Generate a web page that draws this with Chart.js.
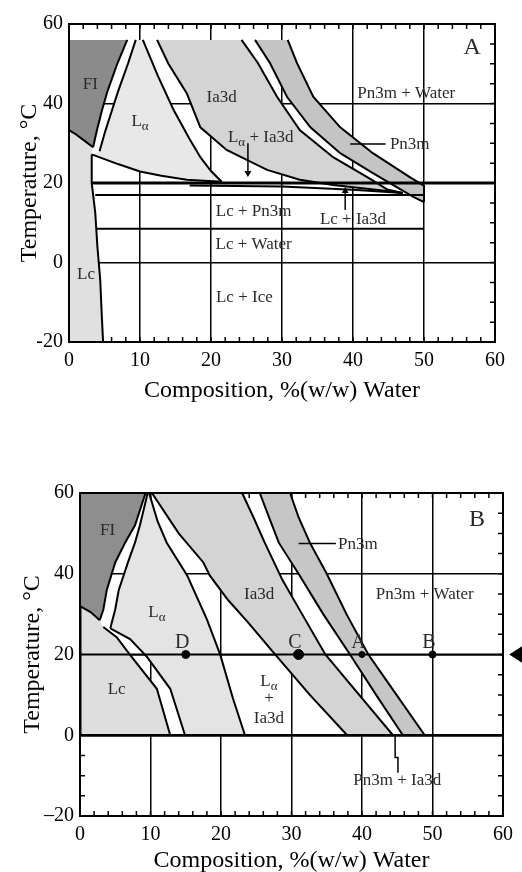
<!DOCTYPE html>
<html>
<head>
<meta charset="utf-8">
<script src="https://cdn.jsdelivr.net/npm/chart.js@4.4.0/dist/chart.umd.min.js"></script>
<style>
  html, body { margin: 0; padding: 0; background: #fff; }
  body { width: 522px; height: 872px; position: relative; overflow: hidden; }
  #chartA { position: absolute; left: 0; top: 0; }
  #chartB { position: absolute; left: 0; top: 430px; }
</style>
</head>
<body>
<canvas id="chartA" width="522" height="405"></canvas>
<canvas id="chartB" width="522" height="442"></canvas>
<script>
// Phase diagram, composition (% w/w water) vs temperature (°C)
// Every boundary is a list of [x, y] points

// ---- Panel A ----
const aFiRight = [[8.2,56],[6.8,50],[5.4,43],[4.6,38],[3.9,33],[3.4,29]];
const aFiLower = [[3.4,29],[2.2,30.6],[1,32.2],[0,33.3]];
const aLaLeft = [[9.4,56],[8.3,50],[6.9,43],[6.0,38],[5.1,33],[4.3,28]];
const aLaRight = [[10.4,56],[12.5,47],[14.7,38.5],[17,31],[18.5,26.5],[20,23],[21.5,20.3]];
const aLaLower = [[21.5,20.3],[16.6,20.8],[13,21.8],[10,22.9],[7,24.7],[5,26],[3.2,27.2]];
const aLcRight = [[4.8,-20],[4.6,-12.7],[4.4,-4.4],[4.0,4],[3.7,12.5],[3.2,20],[3.2,27.2]];
const aIaRight = [[24.3,56],[26.6,50.2],[29.3,41.7],[32.5,33.3],[37.2,26.5],[42,21.5],[44.8,18.4],[47,17.5]];
const aIaLower = [[47,17.5],[44.8,18],[37.2,19.5],[32.5,20.8],[27.9,23.3],[22.2,28.3],[18.5,34],[16.6,42.5],[14,50],[12.4,56]];
const aPnLeft = [[26.2,56],[28.3,50.2],[30.7,41.7],[34,34],[38.2,27.5],[42.8,22.5],[48.5,16.5],[50,15.2]];
const aPnRight = [[30.8,56],[32.1,50.2],[34.4,41.7],[38.2,34],[42.8,27.5],[48,21.5],[50,19.3],[50,15.2]];
const aIso20 = [[3.2,20],[60,20]];
const aIso17 = [[3.7,17],[50,17]];
const aIso8 = [[3.9,8.5],[50,8.5]];
const aLcIaSliver = [[17,19.4],[30,19.1],[40,18.3],[47,17.5]];
const aPnPointer = [[39.6,29.8],[44.6,29.8]];
const aLaIaArrow = [[25.2,30],[25.2,22.5]];
const aLcIaArrow = [[38.9,13.2],[38.9,18]];
const aLabels = [
  {text: 'FI', x: 3, y: 44.7},
  {text: 'L_α', x: 10, y: 35.4},
  {text: 'Ia3d', x: 21.5, y: 41.4},
  {text: 'L_α + Ia3d', x: 27, y: 31.5},
  {text: 'Pn3m + Water', x: 47.5, y: 42.6},
  {text: 'Pn3m', x: 45.2, y: 29.8, align: 'left'},
  {text: 'A', x: 56.8, y: 54, size: 24},
  {text: 'Lc + Pn3m', x: 26, y: 12.7},
  {text: 'Lc + Water', x: 26, y: 4.4},
  {text: 'Lc + Ice', x: 24.7, y: -8.7},
  {text: 'Lc', x: 2.4, y: -3.1},
  {text: 'Lc + Ia3d', x: 40, y: 10.7}
];

// ---- Panel B ----
const bFiRight = [[9.3,60],[7.8,52],[6.4,47.7],[5.0,42.8],[3.8,36],[3.3,31],[2.8,28.5]];
const bFiLower = [[2.8,28.5],[1.5,30.5],[0,32]];
const bLaLeft = [[9.6,60],[8.5,52],[7.8,47.7],[6.8,42.8],[5.5,36],[5.0,31.2],[4.3,26.5]];
const bLaRight = [[9.8,60],[11,53],[12.3,47.7],[15.2,39.6],[18,28.7],[19.9,19.9],[21.7,9.1],[23.4,0]];
const bLaLower = [[14.9,0],[12.8,11.5],[9.5,19.4],[7.1,23.8],[4.3,26.5]];
const bLcUpper = [[3.3,26.8],[5.2,24.3],[7.1,19.9],[10.9,11.5],[12.8,0]];
const bIaLeft = [[10.2,60],[14,50],[17.5,42.8],[18.4,39.6],[21,33.5],[23.8,28],[27.4,20.6],[32.6,10],[37.9,0]];
const bIaRight = [[23,60],[24.6,54],[26.2,47.7],[28.7,38.5],[31.5,30],[34.8,20],[39.6,10],[44.4,0]];
const bPnLeft = [[25.5,60],[26.8,54],[28.2,47.7],[31,40],[34.5,30],[38.3,20],[42,10],[45.8,0]];
const bPnRight = [[29.8,60],[31,54],[32.6,47.7],[35,40],[37.8,30],[40.9,20],[44.9,10],[48.9,0]];
const bLeftWall = [[0,0],[0,32]];
const bIso20 = [[0,20],[60,20]];
const bIso0 = [[0,0],[60,0]];
const bPnPointer = [[31,47.5],[36.3,47.5]];
const bPnIaPointer = [[44.7,0],[44.7,-5.5],[45.1,-5.5],[45.1,-9.3]];
const sampleNames = ['D', 'C', 'A', 'B'];
const sampleWater = [15, 31, 40, 50];
const sampleTemp = [20, 20, 20, 20];
const sampleSize = [4, 5, 3, 3.5];
const markerPoint = [62.3, 20];
const bLabels = [
  {text: 'FI', x: 3.9, y: 50.6},
  {text: 'L_α', x: 10.9, y: 30.5},
  {text: 'Lc', x: 5.2, y: 11.3},
  {text: 'Ia3d', x: 25.4, y: 34.9},
  {text: 'L_α', x: 26.8, y: 13.3},
  {text: '+', x: 26.8, y: 9},
  {text: 'Ia3d', x: 26.8, y: 4.2},
  {text: 'Pn3m', x: 36.6, y: 47.2, align: 'left'},
  {text: 'Pn3m + Water', x: 48.9, y: 34.9},
  {text: 'Pn3m + Ia3d', x: 45, y: -11.3},
  {text: 'B', x: 56.3, y: 53.3, size: 24}
];

const SERIF = "'Liberation Serif', 'DejaVu Serif', serif";

// helpers
function xy(list) { return list.map(p => ({x: p[0], y: p[1]})); }
function rev(list) { return list.slice().reverse(); }

function region(points, color) {
  return {data: xy(points), showLine: true, fill: 'shape', backgroundColor: color,
    borderColor: 'rgba(0,0,0,0)', borderWidth: 0, pointRadius: 0, tension: 0, order: 5};
}
function edge(points, width) {
  return {data: xy(points), showLine: true, fill: false, borderColor: '#000',
    borderWidth: width || 2, pointRadius: 0, tension: 0, order: 3};
}
function arrowHead(point, rotation) {
  return {data: xy([point]), showLine: false, pointStyle: 'triangle', rotation: rotation,
    pointRadius: 4, backgroundColor: '#000', borderColor: '#000', borderWidth: 0, order: 1};
}

function drawLabel(ctx, text, px, py, size, align) { // '_' marks a subscript character
  const segs = [];
  text.split('_').forEach((chunk, i) => {
    if (i === 0) { if (chunk) segs.push([chunk, false]); }
    else {
      segs.push([chunk[0], true]);
      if (chunk.length > 1) segs.push([chunk.slice(1), false]);
    }
  });
  const big = size + 'px ' + SERIF;
  const small = Math.round(size * 0.75) + 'px ' + SERIF;
  let total = 0;
  segs.forEach(s => { ctx.font = s[1] ? small : big; total += ctx.measureText(s[0]).width; });
  let cx = align === 'left' ? px : px - total / 2;
  ctx.fillStyle = '#2a2a2a';
  ctx.textBaseline = 'middle';
  ctx.textAlign = 'left';
  segs.forEach(s => {
    ctx.font = s[1] ? small : big;
    ctx.fillText(s[0], cx, s[1] ? py + size * 0.3 : py);
    cx += ctx.measureText(s[0]).width;
  });
}

function framePlugin(labels, marker) {
  return {
    id: 'frameAndLabels',
    beforeDatasetsDraw(chart) { // small inward ticks, later covered by the phase areas
      const {ctx, chartArea: a, scales: {x, y}} = chart;
      ctx.save();
      ctx.strokeStyle = '#000';
      ctx.lineWidth = 1.5;
      ctx.beginPath();
      for (let v = 0; v <= 60; v += 2) {
        const px = x.getPixelForValue(v);
        ctx.moveTo(px, a.bottom); ctx.lineTo(px, a.bottom - 5);
        ctx.moveTo(px, a.top); ctx.lineTo(px, a.top + 5);
      }
      for (let v = -20; v <= 60; v += 5) {
        const py = y.getPixelForValue(v);
        ctx.moveTo(a.left, py); ctx.lineTo(a.left + 5, py);
        ctx.moveTo(a.right, py); ctx.lineTo(a.right - 5, py);
      }
      ctx.stroke();
      ctx.restore();
    },
    afterDatasetsDraw(chart) {
      const {ctx, chartArea: a, scales: {x, y}} = chart;
      ctx.save();
      ctx.strokeStyle = '#000';
      ctx.lineWidth = 2;
      ctx.strokeRect(a.left, a.top, a.right - a.left, a.bottom - a.top);
      labels.forEach(l => drawLabel(ctx, l.text, x.getPixelForValue(l.x), y.getPixelForValue(l.y), l.size || 17, l.align || 'center'));
      if (marker) { // left-pointing marker outside the plot, at the 20 °C line
        const mx = x.getPixelForValue(marker[0]);
        const my = y.getPixelForValue(marker[1]);
        ctx.fillStyle = '#000';
        ctx.beginPath();
        ctx.moveTo(mx - 10, my);
        ctx.lineTo(mx + 4, my - 9);
        ctx.lineTo(mx + 4, my + 9);
        ctx.closePath();
        ctx.fill();
        ctx.beginPath();
        ctx.arc(mx + 4, my, 6, 0, Math.PI * 2);
        ctx.fill();
      }
      ctx.restore();
    }
  };
}

function makeOptions(pad, yWidth, xHeight, yTitlePad, xTitlePad, dashMinus) {
  return {
    responsive: false,
    animation: false,
    layout: {padding: pad},
    plugins: {legend: {display: false}, tooltip: {enabled: false}},
    scales: {
      x: {
        type: 'linear', min: 0, max: 60,
        afterFit: s => { s.height = xHeight; },
        ticks: {stepSize: 10, padding: 7, color: '#000', font: {family: SERIF, size: 20}},
        grid: {color: '#000', lineWidth: 1.5, drawTicks: false},
        border: {display: false},
        title: {display: true, text: 'Composition, %(w/w) Water', color: '#000',
          font: {family: SERIF, size: 24}, padding: {top: 0, bottom: xTitlePad}}
      },
      y: {
        type: 'linear', min: -20, max: 60,
        afterFit: s => { s.width = yWidth; },
        ticks: {stepSize: 20, padding: 6, color: '#000', font: {family: SERIF, size: 20},
          callback: v => (dashMinus && v < 0) ? '\u2013' + (-v) : v},
        grid: {color: '#000', lineWidth: 1.5, drawTicks: false},
        border: {display: false},
        title: {display: true, text: 'Temperature, \u00B0C', color: '#000',
          font: {family: SERIF, size: 24}, padding: {top: yTitlePad, bottom: 0}}
      }
    }
  };
}

// Panel A
const aDatasets = [
  region([[0,56]].concat(aFiRight, aFiLower), '#8b8b8b'),
  region([[0,-20]].concat(aLcRight, aFiLower), '#e0e0e0'),
  region(rev(aLaLeft).concat(aLaRight, aLaLower), '#e8e8e8'),
  region(aIaRight.concat(aIaLower), '#d4d4d4'),
  region(aPnLeft.concat(rev(aPnRight)), '#c4c4c4'),
  edge(aFiRight), edge(aFiLower), edge(aLaLeft), edge(aLaRight), edge(aLaLower),
  edge(aLcRight), edge(aIaRight), edge(aIaLower), edge(aPnLeft), edge(aPnRight),
  edge(aIso20, 3), edge(aIso17), edge(aIso8), edge(aLcIaSliver, 2),
  edge(aPnPointer, 1.5), edge(aLaIaArrow, 1.5), edge(aLcIaArrow, 1.5),
  arrowHead(aLaIaArrow[1], 180), arrowHead(aLcIaArrow[1], 0)
];

new Chart(document.getElementById('chartA'), {
  type: 'scatter',
  data: {datasets: aDatasets},
  options: makeOptions({top: 24, right: 27, left: 0, bottom: 0}, 69, 63, 15, 0, false),
  plugins: [framePlugin(aLabels, null)]
});

// Panel B
const bDatasets = [
  region([[0,60]].concat(bFiRight, bFiLower), '#8e8e8e'),
  region([[0,0]].concat(rev(bFiLower), bLcUpper), '#dedede'),
  region(bLaLower.concat(rev(bLaLeft), bLaRight), '#e4e4e4'),
  region(bIaLeft.concat(rev(bIaRight)), '#d4d4d4'),
  region(bPnLeft.concat(rev(bPnRight)), '#c6c6c6'),
  edge(bFiRight), edge(bFiLower), edge(bLaLeft), edge(bLaRight), edge(bLaLower),
  edge(bLcUpper), edge(bIaLeft), edge(bIaRight), edge(bPnLeft), edge(bPnRight),
  edge(bLeftWall, 3), edge(bIso20, 2), edge(bIso0, 2.5),
  edge(bPnPointer, 1.5), edge(bPnIaPointer, 1.5),
  {
    data: sampleWater.map((w, i) => ({x: w, y: sampleTemp[i]})),
    showLine: false, pointRadius: sampleSize, backgroundColor: '#000', borderColor: '#000', order: 1
  }
];

const bPointLabels = sampleNames.map((n, i) => ({text: n, x: sampleWater[i] - 0.5, y: sampleTemp[i] + 3, size: 20}));

new Chart(document.getElementById('chartB'), {
  type: 'scatter',
  data: {datasets: bDatasets},
  options: makeOptions({top: 63, right: 19, left: 0, bottom: 0}, 80, 56, 18, -3, true),
  plugins: [framePlugin(bLabels.concat(bPointLabels), markerPoint)]
});
</script>
</body>
</html>
